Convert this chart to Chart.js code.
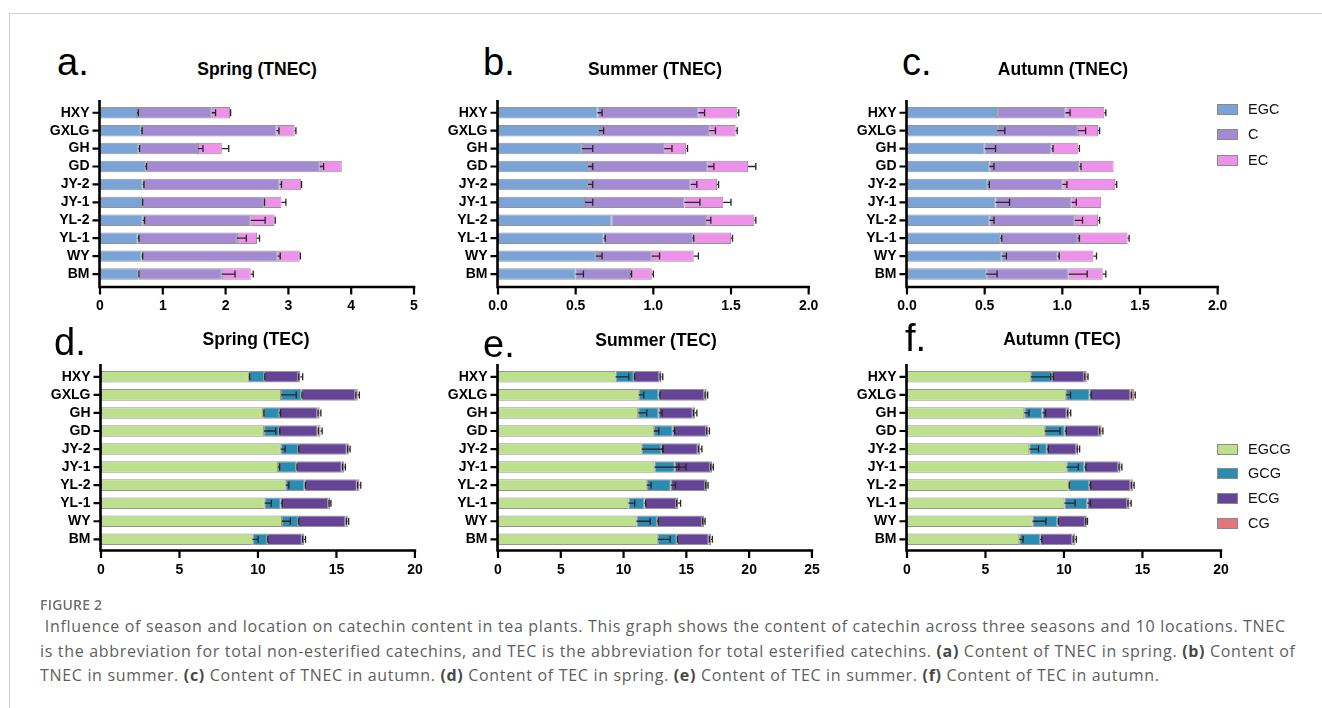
<!DOCTYPE html>
<html><head><meta charset="utf-8">
<script src="https://cdn.jsdelivr.net/npm/chart.js@4.4.1/dist/chart.umd.min.js"></script>
<style>
html,body{margin:0;padding:0;background:#fff;}
body{width:1322px;height:708px;position:relative;overflow:hidden;font-family:"Liberation Sans",Arial,sans-serif;}
.frame{position:absolute;left:9px;top:13px;width:1320px;height:700px;border-left:1px solid #d2d2d2;border-top:1px solid #d2d2d2;}
canvas{position:absolute;}
.txt{position:absolute;white-space:nowrap;line-height:1;}
.cap{position:absolute;white-space:nowrap;line-height:1;font-family:"Open Sans",sans-serif;color:#5e5e5e;font-size:16px;letter-spacing:0.68px;}
.cap b{font-weight:700;color:#474747;}
.lgbox{position:absolute;width:19px;height:9px;border:1px solid #8a8a8a;}
</style>
</head><body>
<div class="frame"></div>
<script>
// ---------- data ----------
const categories = ['HXY','GXLG','GH','GD','JY-2','JY-1','YL-2','YL-1','WY','BM'];
const tnecSeries = ['EGC','C','EC'];
const tecSeries = ['EGCG','GCG','ECG','CG'];

// Spring TNEC (segment values)
const springEGC = [0.59,0.65,0.61,0.72,0.68,0.67,0.68,0.60,0.66,0.61];
const springC   = [1.19,2.16,0.95,2.78,2.18,1.94,1.72,1.58,2.17,1.33];
const springEC  = [0.29,0.29,0.38,0.35,0.34,0.28,0.38,0.32,0.35,0.46];
const springEGCErr = [0.02,0.02,0.02,0.02,0.02,0.01,0.03,0.02,0.02,0.01];
const springCErr   = [0.06,0.04,0.08,0.06,0.03,0.01,0.23,0.15,0.04,0.21];
const springECErr  = [0.01,0.02,0.11,0.00,0.01,0.07,0.01,0.04,0.01,0.04];

// Summer TNEC
const summerEGC = [0.64,0.65,0.54,0.58,0.58,0.56,0.73,0.68,0.63,0.50];
const summerC   = [0.65,0.71,0.53,0.77,0.66,0.64,0.61,0.57,0.36,0.35];
const summerEC  = [0.25,0.17,0.14,0.26,0.17,0.25,0.31,0.25,0.27,0.14];
const summerEGCErr = [0.03,0.03,0.07,0.03,0.03,0.05,0.00,0.01,0.04,0.05];
const summerCErr   = [0.04,0.04,0.05,0.04,0.04,0.10,0.03,0.01,0.05,0.01];
const summerECErr  = [0.01,0.01,0.01,0.05,0.01,0.05,0.01,0.01,0.03,0.01];

// Autumn TNEC
const autumnEGC = [0.58,0.58,0.50,0.53,0.52,0.57,0.53,0.60,0.61,0.51];
const autumnC   = [0.44,0.52,0.43,0.58,0.48,0.49,0.55,0.50,0.36,0.53];
const autumnEC  = [0.25,0.13,0.17,0.22,0.34,0.19,0.15,0.32,0.23,0.22];
const autumnEGCErr = [0.00,0.05,0.07,0.03,0.01,0.09,0.03,0.01,0.03,0.07];
const autumnCErr   = [0.03,0.05,0.01,0.01,0.03,0.03,0.05,0.01,0.01,0.12];
const autumnECErr  = [0.01,0.01,0.01,0.00,0.01,0.00,0.01,0.01,0.02,0.02];

// Spring TEC
const springEGCG = [9.42,11.47,10.33,10.39,11.45,11.28,11.77,10.43,11.53,9.65];
const springGCG  = [0.97,1.29,1.01,0.95,1.10,1.16,1.20,1.02,1.02,0.93];
const springECG  = [2.16,3.43,2.44,2.46,3.11,2.90,3.33,3.03,3.03,2.22];
const springCG   = [0.15,0.17,0.15,0.19,0.13,0.15,0.17,0.12,0.14,0.13];
const springEGCGErr = [0.05,0.97,0.05,0.74,0.28,0.10,0.20,0.42,0.53,0.36];
const springGCGErr  = [0.05,0.05,0.10,0.05,0.05,0.05,0.05,0.10,0.05,0.05];
const springECGErr  = [0.05,0.05,0.05,0.05,0.05,0.05,0.05,0.05,0.05,0.05];
const springCGErr   = [0.15,0.10,0.08,0.10,0.08,0.08,0.08,0.05,0.06,0.10];

// Summer TEC
const summerEGCG = [9.36,11.21,11.16,12.41,11.45,12.46,11.85,10.39,11.03,12.73];
const summerGCG  = [1.46,1.59,1.64,1.51,1.54,1.62,1.91,1.27,1.64,1.51];
const summerECG  = [2.04,3.64,2.71,2.65,2.92,2.81,2.73,2.52,3.58,2.54];
const summerCG   = [0.16,0.18,0.18,0.19,0.18,0.16,0.16,0.16,0.16,0.19];
const summerEGCGErr = [1.06,0.40,0.69,0.40,1.67,1.94,0.34,0.50,1.09,0.98];
const summerGCGErr  = [0.05,0.10,0.27,0.15,0.15,0.90,0.37,0.10,0.10,0.05];
const summerECGErr  = [0.05,0.05,0.05,0.05,0.05,0.05,0.05,0.05,0.05,0.05];
const summerCGErr   = [0.10,0.08,0.15,0.08,0.15,0.10,0.08,0.20,0.08,0.10];

// Autumn TEC
const autumnEGCG = [7.89,10.12,7.47,8.78,7.79,10.16,10.29,10.03,8.00,7.15];
const autumnGCG  = [1.34,1.52,1.16,1.27,1.12,1.14,1.31,1.46,1.59,1.34];
const autumnECG  = [2.05,2.60,1.55,2.18,1.88,2.16,2.64,2.54,1.75,2.05];
const autumnCG   = [0.17,0.22,0.15,0.17,0.13,0.15,0.15,0.15,0.11,0.17];
const autumnEGCGErr = [1.27,0.30,0.30,0.97,0.59,0.76,0.05,0.68,0.85,0.25];
const autumnGCGErr  = [0.10,0.10,0.20,0.10,0.10,0.10,0.10,0.20,0.05,0.10];
const autumnECGErr  = [0.05,0.05,0.05,0.05,0.05,0.05,0.05,0.05,0.05,0.05];
const autumnCGErr   = [0.08,0.08,0.10,0.08,0.08,0.08,0.08,0.10,0.05,0.08];

// tick labels
const ticksA = [0,1,2,3,4,5];
const ticksBC = [0,0.5,1.0,1.5,2.0];
const ticksDF = [0,5,10,15,20];
const ticksE = [0,5,10,15,20,25];

const tnecColors = ['#7aa3d8','#a38ad3','#ee91ea'];
const tecColors = ['#bde08c','#2c8bb0','#654497','#e2767e'];

// ---------- layout ----------
const FONT = '"Liberation Sans", Arial, sans-serif';
const panels = [
  {letter:'a.', lx:57, lb:75, title:'Spring (TNEC)', tx:257, tb:76, L:100, R:414, bandTop:103.8, bandBot:283, axisTop:100, axisBot:287, labC:306,
   series:tnecSeries, colors:tnecColors, data:[springEGC,springC,springEC], errs:[springEGCErr,springCErr,springECErr], ticks:ticksA, dec:0},
  {letter:'b.', lx:483, lb:75, title:'Summer (TNEC)', tx:655, tb:76, L:498, R:813, bandTop:103.8, bandBot:283, axisTop:100, axisBot:287, labC:306,
   series:tnecSeries, colors:tnecColors, data:[summerEGC,summerC,summerEC], errs:[summerEGCErr,summerCErr,summerECErr], ticks:ticksBC, dec:1},
  {letter:'c.', lx:902, lb:75, title:'Autumn (TNEC)', tx:1063, tb:76, L:907, R:1222, bandTop:103.8, bandBot:283, axisTop:100, axisBot:287, labC:306,
   series:tnecSeries, colors:tnecColors, data:[autumnEGC,autumnC,autumnEC], errs:[autumnEGCErr,autumnCErr,autumnECErr], ticks:ticksBC, dec:1},
  {letter:'d.', lx:54, lb:355, title:'Spring (TEC)', tx:256, tb:346, L:101, R:416, bandTop:367.8, bandBot:548.3, axisTop:364, axisBot:550.5, labC:570,
   series:tecSeries, colors:tecColors, data:[springEGCG,springGCG,springECG,springCG], errs:[springEGCGErr,springGCGErr,springECGErr,springCGErr], ticks:ticksDF, dec:0},
  {letter:'e.', lx:483, lb:357, title:'Summer (TEC)', tx:656, tb:347, L:498, R:813, bandTop:367.8, bandBot:548.3, axisTop:364, axisBot:550.5, labC:570,
   series:tecSeries, colors:tecColors, data:[summerEGCG,summerGCG,summerECG,summerCG], errs:[summerEGCGErr,summerGCGErr,summerECGErr,summerCGErr], ticks:ticksE, dec:0},
  {letter:'f.', lx:905, lb:351, title:'Autumn (TEC)', tx:1062, tb:346, L:907, R:1222, bandTop:367.8, bandBot:548.3, axisTop:364, axisBot:550.5, labC:570,
   series:tecSeries, colors:tecColors, data:[autumnEGCG,autumnGCG,autumnECG,autumnCG], errs:[autumnEGCGErr,autumnGCGErr,autumnECGErr,autumnCGErr], ticks:ticksDF, dec:0}
];

function addText(str, left, baseline, size, weight, center, extra){
  const d = document.createElement('div');
  d.className = 'txt';
  d.textContent = str;
  d.style.fontSize = size + 'px';
  d.style.fontWeight = weight;
  d.style.top = (baseline - 0.8465*size) + 'px';
  if (center){ d.style.left = (left - 200) + 'px'; d.style.width = '400px'; d.style.textAlign = 'center'; }
  else d.style.left = left + 'px';
  if (extra) Object.assign(d.style, extra);
  document.body.appendChild(d);
}

const YW = 95, PR = 20, XH = 45;

panels.forEach(p => {
  addText(p.letter, p.lx, p.lb, 38, 'normal', false);
  addText(p.title, p.tx, p.tb, 17.5, 'bold', true);

  const cLeft = p.L - YW;
  const cTop = Math.floor(p.bandTop) - 40;
  const PT = p.bandTop - cTop;
  const W = (p.R - p.L) + YW + PR;
  const H = Math.ceil(PT + (p.bandBot - p.bandTop) + XH);
  const XHh = H - PT - (p.bandBot - p.bandTop);
  const cv = document.createElement('canvas');
  cv.width = W; cv.height = H;
  cv.style.left = cLeft + 'px'; cv.style.top = cTop + 'px';
  cv.style.width = W + 'px'; cv.style.height = H + 'px';
  document.body.appendChild(cv);

  const aTop = p.axisTop - cTop, aBot = p.axisBot - cTop;
  const tickPad = p.labC - p.bandBot - 8.4;

  const overlay = {
    id:'overlay_' + p.letter,
    afterDatasetsDraw(chart){
      const {ctx, chartArea, scales:{x, y}} = chart;
      const ds = chart.data.datasets;
      ctx.save();
      // error bars
      ctx.strokeStyle = '#262626';
      ctx.lineWidth = 1.3;
      for (let j = 0; j < chart.data.labels.length; j++){
        const yc = y.getPixelForValue(j);
        let cum = 0;
        ds.forEach((d, i) => {
          cum += d.data[j];
          const e = p.errs[i][j];
          if (!e) return;
          const x0 = x.getPixelForValue(cum), x1 = x.getPixelForValue(cum + e);
          ctx.beginPath();
          ctx.moveTo(x0, yc); ctx.lineTo(x1, yc);
          ctx.moveTo(x1, yc - 3.5); ctx.lineTo(x1, yc + 3.5);
          ctx.stroke();
        });
      }
      // axes
      ctx.strokeStyle = '#000';
      ctx.lineWidth = 2.6;
      const lx = chartArea.left - 0.5;
      ctx.beginPath();
      ctx.moveTo(lx, aTop); ctx.lineTo(lx, aBot + 1.3);
      ctx.moveTo(lx - 1.3, aBot); ctx.lineTo(chartArea.right + 1.3, aBot);
      ctx.stroke();
      ctx.lineWidth = 2.2;
      ctx.beginPath();
      for (let j = 0; j < chart.data.labels.length; j++){
        const yc = y.getPixelForValue(j);
        ctx.moveTo(lx - 7, yc); ctx.lineTo(lx, yc);
      }
      p.ticks.forEach(v => {
        const px = x.getPixelForValue(v);
        ctx.moveTo(px, aBot); ctx.lineTo(px, aBot + 7.5);
      });
      ctx.stroke();
      ctx.restore();
    }
  };

  new Chart(cv, {
    type:'bar',
    data:{
      labels: categories,
      datasets: p.series.map((name, i) => ({
        label: name,
        data: p.data[i],
        backgroundColor: p.colors[i],
        borderColor: 'rgba(60,60,60,0.55)',
        borderWidth: 1,
        borderSkipped: false,
        barPercentage: 1,
        categoryPercentage: 0.64
      }))
    },
    options:{
      indexAxis:'y',
      responsive:false,
      animation:false,
      devicePixelRatio:1,
      layout:{padding:{left:0, top:PT, right:PR, bottom:0}},
      plugins:{legend:{display:false}, tooltip:{enabled:false}, title:{display:false}},
      scales:{
        x:{
          type:'linear', stacked:true, min:p.ticks[0], max:p.ticks[p.ticks.length-1],
          grid:{display:false, drawTicks:false}, border:{display:false},
          afterBuildTicks: s => { s.ticks = p.ticks.map(v => ({value:v})); },
          afterFit: s => { s.height = XHh; },
          ticks:{padding:tickPad, color:'#000', font:{family:FONT, size:14, weight:'bold'}, maxRotation:0,
                 callback: v => Number(v).toFixed(p.dec)}
        },
        y:{
          type:'category', stacked:true,
          grid:{display:false, drawTicks:false}, border:{display:false},
          afterFit: s => { s.width = YW; },
          ticks:{padding:10.5, color:'#000', font:{family:FONT, size:14, weight:'bold'}, autoSkip:false}
        }
      }
    },
    plugins:[overlay]
  });
});

// ---------- legends ----------
function legend(names, colors, centers){
  names.forEach((n, i) => {
    const b = document.createElement('div');
    b.className = 'lgbox';
    b.style.left = '1217px';
    b.style.top = (centers[i] - 5.5) + 'px';
    b.style.background = colors[i];
    document.body.appendChild(b);
    const t = document.createElement('div');
    t.className = 'txt';
    t.textContent = n;
    t.style.fontSize = '14.5px';
    t.style.left = '1248px';
    t.style.top = (centers[i] - 0.4885*14.5) + 'px';
    t.style.color = '#111';
    document.body.appendChild(t);
  });
}
legend(tnecSeries, tnecColors, [109, 134.5, 160]);
legend(tecSeries, tecColors, [449, 473.5, 498.5, 523]);

// ---------- caption ----------
function capLine(html, left, center, size, extra){
  const d = document.createElement('div');
  d.className = 'cap';
  d.innerHTML = html;
  d.style.fontSize = size + 'px';
  d.style.left = left + 'px';
  d.style.top = (center - 0.6*size) + 'px';
  if (extra) Object.assign(d.style, extra);
  document.body.appendChild(d);
}
capLine('FIGURE 2', 40, 606, 14, {fontWeight:'600', color:'#707070', letterSpacing:'0.2px'});
capLine('&nbsp;Influence of season and location on catechin content in tea plants. This graph shows the content of catechin across three seasons and 10 locations. TNEC', 40, 628, 16);
capLine('is the abbreviation for total non-esterified catechins, and TEC is the abbreviation for total esterified catechins. <b>(a)</b> Content of TNEC in spring. <b>(b)</b> Content of', 40, 653, 16);
capLine('TNEC in summer. <b>(c)</b> Content of TNEC in autumn. <b>(d)</b> Content of TEC in spring. <b>(e)</b> Content of TEC in summer. <b>(f)</b> Content of TEC in autumn.', 40, 677, 16);
</script>
</body></html>
